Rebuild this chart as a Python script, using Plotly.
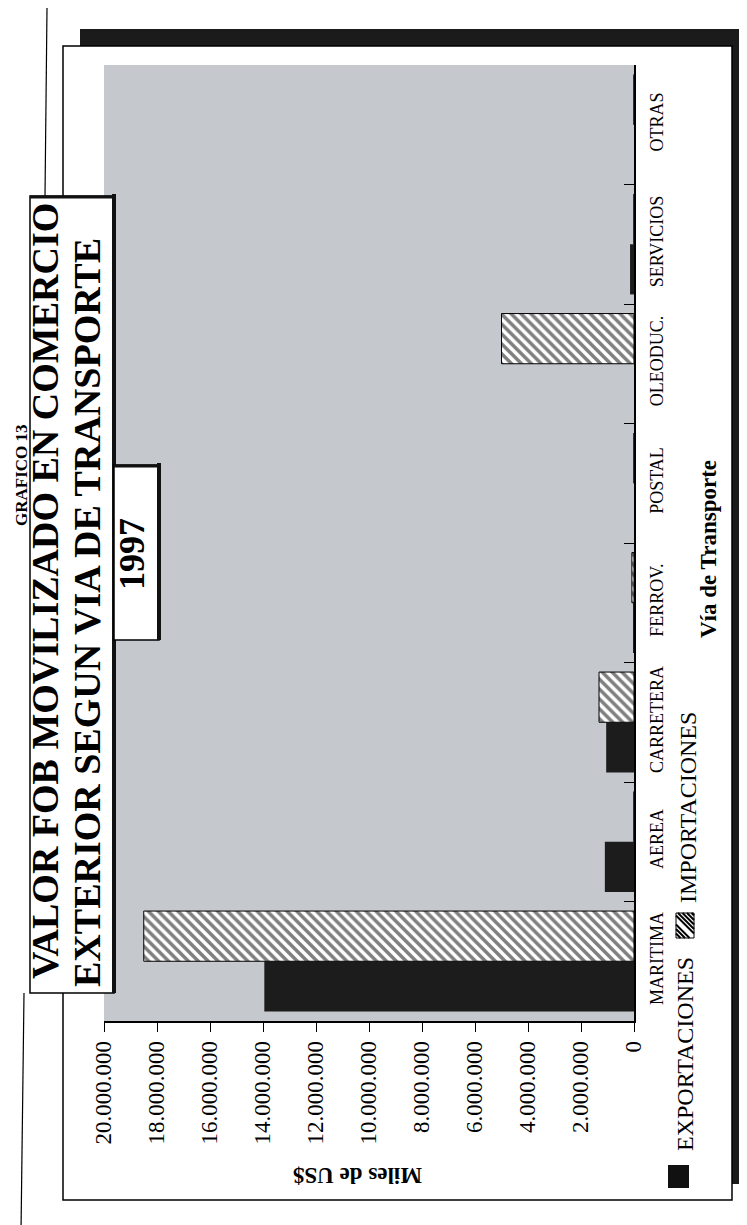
import plotly.graph_objects as go

# ---------------- data ----------------
categories = ["MARITIMA", "AEREA", "CARRETERA", "FERROV.", "POSTAL", "OLEODUC.", "SERVICIOS", "OTRAS"]
exportaciones = [13950000, 1100000, 1050000, 30000, 0, 0, 150000, 0]
importaciones = [18500000, 0, 1320000, 80000, 0, 5000000, 0, 0]
value_ticks = [0, 2000000, 4000000, 6000000, 8000000, 10000000, 12000000,
               14000000, 16000000, 18000000, 20000000]
value_tick_labels = ["0", "2.000.000", "4.000.000", "6.000.000", "8.000.000", "10.000.000",
                     "12.000.000", "14.000.000", "16.000.000", "18.000.000", "20.000.000"]

# ---------------- geometry (pixels) ----------------
W, H = 747, 1225
L, R, T, B = 96, 626, 57, 1013


def px(x):
    return (x - L) / (R - L)


def py(y):
    return (B - y) / (B - T)


SERIF = "Liberation Serif, Times New Roman, serif"

fig = go.Figure()
fig.add_trace(go.Bar(
    y=categories, x=exportaciones, orientation="h", name="EXPORTACIONES",
    marker=dict(color="#1c1c1c", line=dict(width=0)), showlegend=False,
))
fig.add_trace(go.Bar(
    y=categories, x=importaciones, orientation="h", name="IMPORTACIONES",
    marker=dict(color="white", line=dict(color="black", width=1),
                pattern=dict(shape="\\", fgcolor="black", bgcolor="white", size=7, solidity=0.5)),
    showlegend=False,
))

shapes = []


def rect(x0, y0, x1, y1, fill, line_color=None, lw=0, layer="below"):
    shapes.append(dict(type="rect", xref="paper", yref="paper",
                       x0=px(x0), x1=px(x1), y0=py(y1), y1=py(y0),
                       fillcolor=fill, line=dict(color=line_color or fill, width=lw), layer=layer))


def line(x0, y0, x1, y1, color="black", lw=1.2, layer="below"):
    shapes.append(dict(type="line", xref="paper", yref="paper",
                       x0=px(x0), x1=px(x1), y0=py(y0), y1=py(y1),
                       line=dict(color=color, width=lw), layer=layer))


# page fold lines
line(39, 0, 37, 188)
line(16, 985, 13, 1225)
# frame shadow and frame
rect(72, 21, 741, 1176, "#1b1b1b")
rect(55, 38, 724, 1192, "white", "black", 1.5)
# plot area background
rect(L, T, R, B, "#c5c8cd")
# title box
rect(22, 188, 106, 985, "white", "black", 1.5)
line(106, 186, 106, 985, "#111", 4)
line(22, 189, 108, 189, "#111", 3)
# 1997 box
rect(106, 457, 151, 632, "white", "black", 1.5)
line(151, 455, 151, 632, "#111", 4)
line(106, 458, 153, 458, "#111", 3)

# legend swatches
rect(660, 1157, 681, 1180, "#111", layer="above")
hx0, hy0, hx1, hy1 = 668, 905, 686, 930
rect(hx0, hy0, hx1, hy1, "white", "black", 1, layer="above")
step = 4.5
k = -(hy1 - hy0)
while k < (hx1 - hx0):
    pts = []
    for yy in (hy0, hy1):
        xx = hx0 + (yy - hy0) + k
        if hx0 <= xx <= hx1:
            pts.append((xx, yy))
    for xx in (hx0, hx1):
        yy = hy0 + (xx - hx0) - k
        if hy0 <= yy <= hy1:
            pts.append((xx, yy))
    if len(pts) >= 2:
        (ax, ay), (bx, by) = pts[0], pts[-1]
        line(ax, ay, bx, by, "black", 2, layer="above")
    k += step

annotations = []


def text(x, y, s, size, bold=False, angle=-90, family=SERIF):
    annotations.append(dict(
        xref="paper", yref="paper", x=px(x), y=py(y), xanchor="center", yanchor="middle",
        text=f"<b>{s}</b>" if bold else s, textangle=angle, showarrow=False,
        font=dict(family=family, size=size, color="black")))


text(13, 467, "GRAFICO 13", 17, bold=True)
text(37, 583, "VALOR FOB MOVILIZADO EN COMERCIO", 38, bold=True)
text(79, 605, "EXTERIOR SEGUN VIA DE TRANSPORTE", 38, bold=True)
text(124, 546, "1997", 36, bold=True)
text(700, 541, "Vía de Transporte", 23, bold=True)
text(350, 1168, "Miles de US$", 23, bold=True, angle=180)
text(677, 1046, "EXPORTACIONES", 24)
text(680, 800, "IMPORTACIONES", 24)

fig.update_layout(
    width=W, height=H,
    margin=dict(l=L, r=W - R, t=T, b=H - B, pad=0),
    paper_bgcolor="white", plot_bgcolor="rgba(0,0,0,0)",
    barmode="group", bargap=0.16, bargroupgap=0,
    shapes=shapes, annotations=annotations, showlegend=False,
    font=dict(family=SERIF, color="black"),
)
fig.update_xaxes(
    range=[20000000, 0], tickvals=value_ticks, ticktext=value_tick_labels,
    tickangle=-90, tickfont=dict(family=SERIF, size=23, color="black"),
    showgrid=False, zeroline=False, showline=True, linecolor="black", linewidth=1.5,
    ticks="outside", ticklen=9, tickcolor="black", tickwidth=1.2, ticklabelstandoff=0,
)
fig.update_yaxes(
    type="category", categoryorder="array", categoryarray=categories, side="right",
    tickangle=-90, tickfont=dict(family=SERIF, size=18, color="black"),
    showgrid=False, zeroline=False, showline=True, linecolor="black", linewidth=1.5,
    ticks="inside", tickson="boundaries", ticklen=10, tickcolor="black", tickwidth=1.2,
    ticklabelstandoff=6,
)

fig.write_html("out.html")
